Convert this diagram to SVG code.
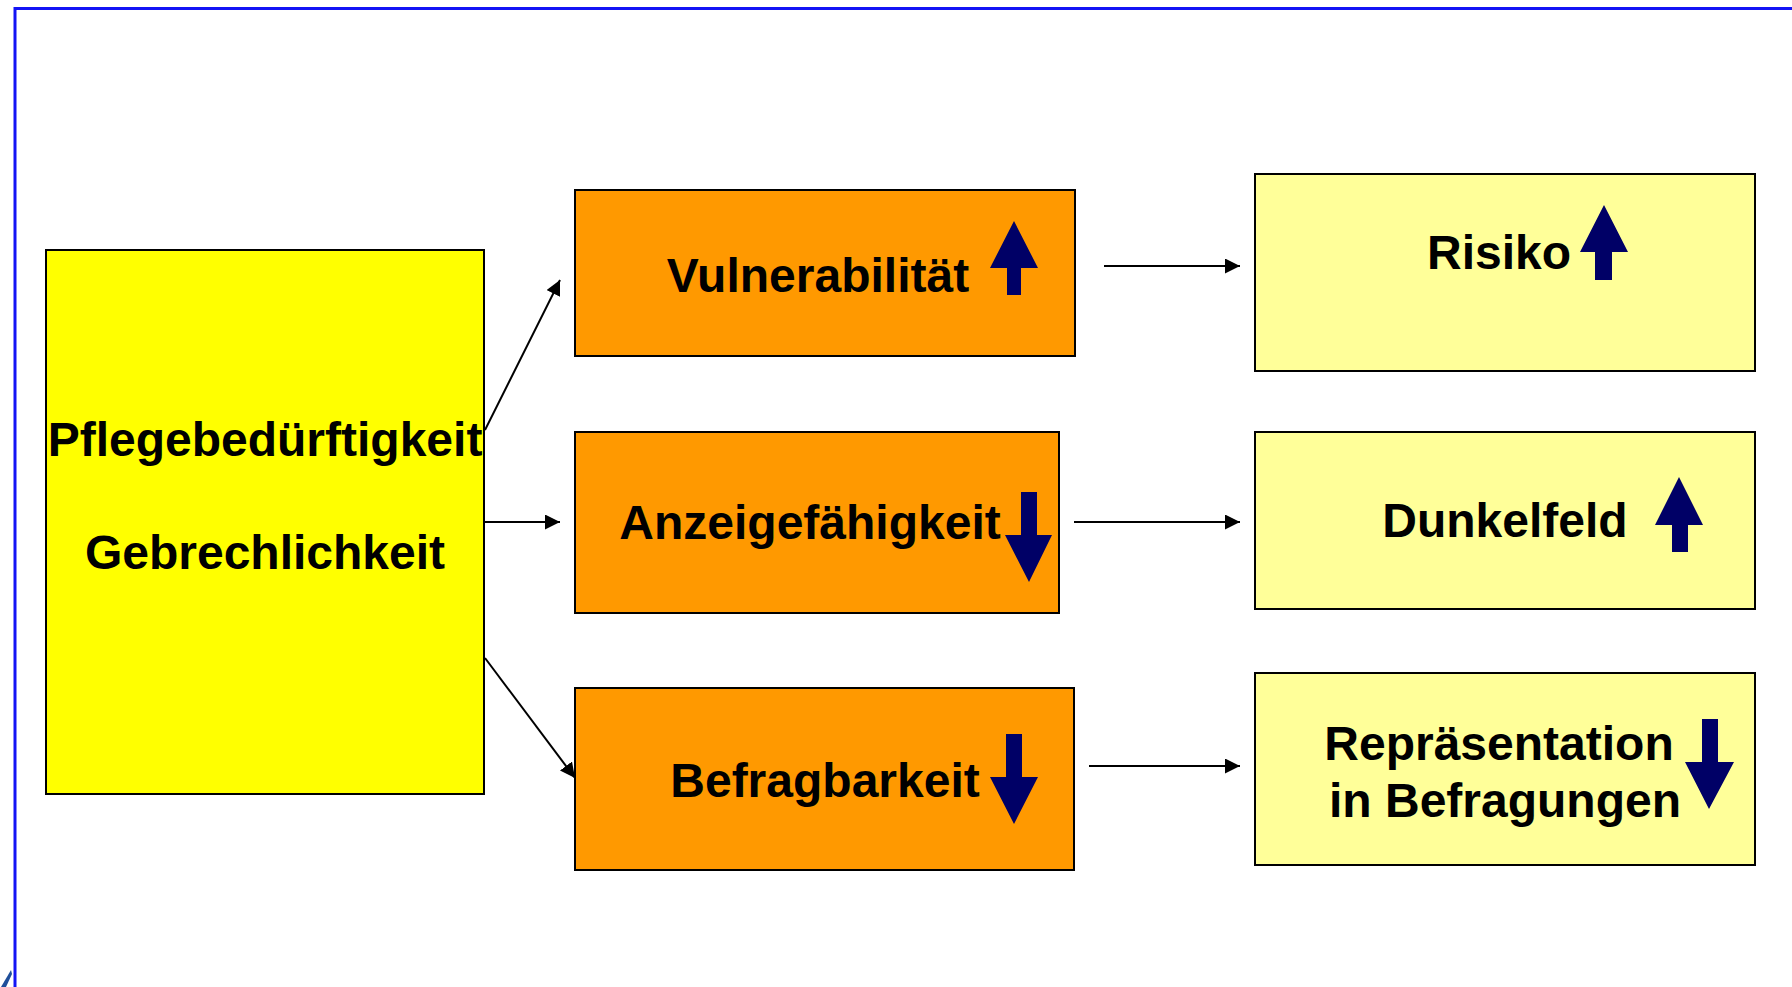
<svg xmlns="http://www.w3.org/2000/svg" width="1792" height="987" viewBox="0 0 1792 987">
<defs>
<style>
.box{stroke:#000;stroke-width:2}
.src{fill:#ffff00}
.mid{fill:#ff9900}
.out{fill:#ffff99}
.lbl{font-family:"Liberation Sans",Arial,sans-serif;font-weight:bold;font-size:48px;fill:#000;text-anchor:middle}
.ind{fill:#000066}
.con{stroke:#000;stroke-width:2;fill:none;marker-end:url(#ah)}
</style>
<marker id="ah" viewBox="0 0 15 15" refX="15" refY="7.5" markerWidth="15" markerHeight="15" markerUnits="userSpaceOnUse" orient="auto">
<path d="M0,0 L15,7.5 L0,15 Z" fill="#000"/>
</marker>
</defs>
<rect width="1792" height="987" fill="#fff"/>
<g id="frame">
<path d="M15,987 L15,8.5 L1792,8.5" fill="none" stroke="#1414f5" stroke-width="3"/>
<polygon points="1,987 11,970 12,974 6,987" fill="#1f4e9a"/>
</g>
<g id="connectors">
<line class="con" x1="485" y1="430" x2="560" y2="280"/>
<line class="con" x1="485" y1="522" x2="560" y2="522"/>
<line class="con" x1="485" y1="658" x2="575" y2="778"/>
<line class="con" x1="1104" y1="266" x2="1240" y2="266"/>
<line class="con" x1="1074" y1="522" x2="1240" y2="522"/>
<line class="con" x1="1089" y1="766" x2="1240" y2="766"/>
</g>
<g id="pflege">
<rect class="box src" x="46" y="250" width="438" height="544"/>
<text class="lbl" x="265" y="456">Pflegebedürftigkeit</text>
<text class="lbl" x="265" y="569">Gebrechlichkeit</text>
</g>
<g id="vulnerabilitaet">
<rect class="box mid" x="575" y="190" width="500" height="166"/>
<text class="lbl" x="818" y="292">Vulnerabilität</text>
<polygon class="ind" points="1014,221 1038,268 1021,268 1021,295 1007,295 1007,268 990,268"/>
</g>
<g id="anzeigefaehigkeit">
<rect class="box mid" x="575" y="432" width="484" height="181"/>
<text class="lbl" x="810" y="539">Anzeigefähigkeit</text>
<polygon class="ind" points="1021,492 1037,492 1037,535 1052,535 1029,582 1005,535 1021,535"/>
</g>
<g id="befragbarkeit">
<rect class="box mid" x="575" y="688" width="499" height="182"/>
<text class="lbl" x="825" y="797">Befragbarkeit</text>
<polygon class="ind" points="1006,734 1022,734 1022,777 1038,777 1014,824 990,777 1006,777"/>
</g>
<g id="risiko">
<rect class="box out" x="1255" y="174" width="500" height="197"/>
<text class="lbl" x="1499" y="269">Risiko</text>
<polygon class="ind" points="1604,205 1628,252 1612,252 1612,280 1595,280 1595,252 1580,252"/>
</g>
<g id="dunkelfeld">
<rect class="box out" x="1255" y="432" width="500" height="177"/>
<text class="lbl" x="1505" y="537">Dunkelfeld</text>
<polygon class="ind" points="1679,477 1703,525 1688,525 1688,552 1672,552 1672,525 1655,525"/>
</g>
<g id="repraesentation">
<rect class="box out" x="1255" y="673" width="500" height="192"/>
<text class="lbl" x="1499" y="760">Repräsentation</text>
<text class="lbl" x="1505" y="817">in Befragungen</text>
<polygon class="ind" points="1702,719 1718,719 1718,762 1734,762 1709,809 1685,762 1702,762"/>
</g>
</svg>
